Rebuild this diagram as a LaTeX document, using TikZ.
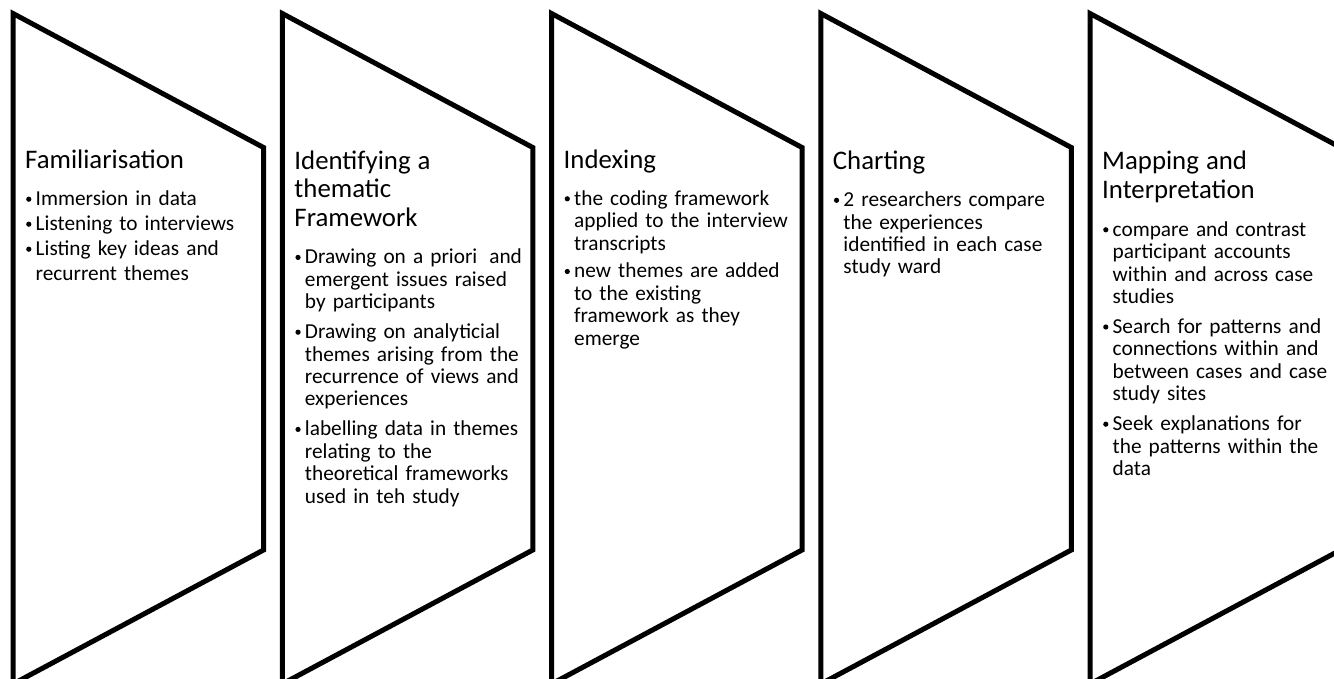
\documentclass[tikz,border=0pt]{standalone}
\usepackage{fontspec}
\setmainfont{Carlito}
\newlength{\bulind}
\setlength{\bulind}{10.5pt}
% small round bullet, centred at mid x-height
\newcommand{\stagedot}{\hspace*{1pt}\raisebox{3.9pt}{\tikz\fill[black] (0,0) circle (2.6pt);}}
% stage heading and bullet items inside a stage
\newcommand{\stagehead}[1]{{\fontsize{26.8}{28.3}\selectfont\raggedright #1\par}}
\newcommand{\stageitem}[2][7.6pt]{\vspace{#1}\hangindent=\bulind\hangafter=1\noindent\makebox[\bulind][l]{\stagedot}#2\par}
\tikzset{
  stage/.style={draw=black, line width=5pt, line join=miter, fill=white},
  stagetext/.style={anchor=base west, inner sep=0pt, text width=250pt,
    font=\fontsize{21.3}{22.4}\selectfont, text=black}
}
\begin{document}
\begin{tikzpicture}[x=1pt,y=-1pt]
\useasboundingbox (0,0) rectangle (1334,679);
\clip (0,0) rectangle (1334,679);
\fill[white] (0,0) rectangle (1334,679);
% five stage outlines: vertical left side, slanted top and bottom
\foreach \i in {0,...,4}{
  \pgfmathsetmacro{\L}{13+269.25*\i}
  \coordinate (tl\i) at (\L,13.5);
  \coordinate (tr\i) at (\L+250.5,147.5);
  \coordinate (br\i) at (\L+250.5,550);
  \coordinate (bl\i) at (\L,684);
  \draw[stage] (tl\i) -- (tr\i) -- (br\i) -- (bl\i) -- cycle;
}
\node[stagetext, font=\fontsize{21.3}{25}\selectfont] (s1) at (25,169) {%
  \stagehead{Familiarisation}
  \stageitem[11.7pt]{Immersion in data}
  \stageitem[0pt]{Listening to interviews}
  \stageitem[0pt]{Listing key ideas and\newline recurrent themes}};
\node[stagetext] (s2) at (294.25,169.5) {%
  \stagehead{Identifying a\newline thematic\newline Framework}
  \stageitem[15.4pt]{Drawing on a priori\hspace{12pt}and\newline emergent issues raised\newline by participants}
  \stageitem{Drawing on analyticial\newline themes arising from the\newline recurrence of views and\newline experiences}
  \stageitem{labelling data in themes\newline relating to the\newline theoretical frameworks\newline used in teh study}};
\node[stagetext] (s3) at (563.5,168.5) {%
  \stagehead{Indexing}
  \stageitem[14.4pt]{the coding framework\newline applied to the interview\newline transcripts}
  \stageitem[5.5pt]{new themes are added\newline to the existing\newline framework as they\newline emerge}};
\node[stagetext] (s4) at (832.75,170) {%
  \stagehead{Charting}
  \stageitem[14.4pt]{2 researchers compare\newline the experiences\newline identified in each case\newline study ward}};
\node[stagetext] (s5) at (1102,170) {%
  \stagehead{Mapping and\newline Interpretation}
  \stageitem[15.6pt]{compare and contrast\newline participant accounts\newline within and across case\newline studies}
  \stageitem{Search for patterns and\newline connections within and\newline between cases and case\newline study sites}
  \stageitem{Seek explanations for\newline the patterns within the\newline data}};
\end{tikzpicture}
\end{document}
